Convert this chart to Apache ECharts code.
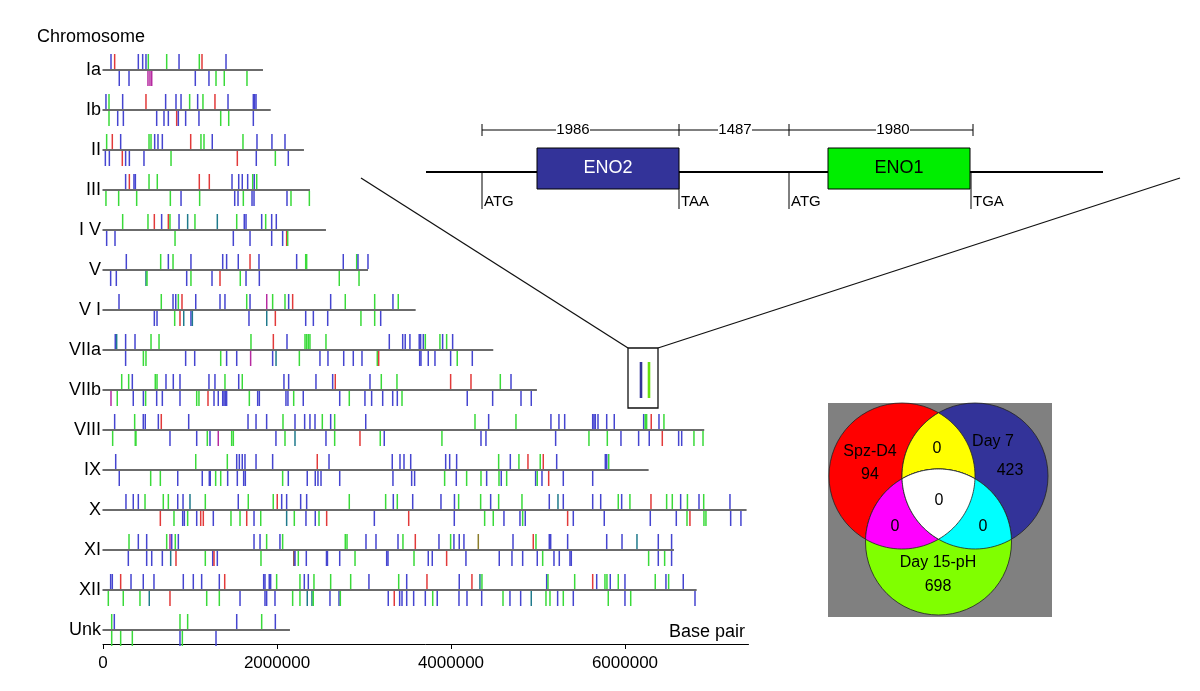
<!DOCTYPE html>
<html><head><meta charset="utf-8">
<script src="https://cdn.jsdelivr.net/npm/echarts@6/dist/echarts.min.js"></script>
<style>html,body{margin:0;padding:0;background:#fff}#c{width:1200px;height:691px}</style>
</head><body><div id="c"></div>
<script>
// ---------- DATA ----------
const chrNames = ['Ia','Ib','II','III','I V','V','V I','VIIa','VIIb','VIII','IX','X','XI','XII','Unk'];
const chrLengthsKb = [1839,1928,2310,2379,2563,3046,3594,4486,4988,6911,6272,7398,6563,6824,2149];
const xTickValues = [0,2000000,4000000,6000000];
// ticks: [position kb, side (1 above / -1 below), class]
const ticksIa = [[92,1,'b'],[134,1,'r'],[406,1,'b'],[456,1,'b'],[494,1,'b'],[521,1,'g'],[732,1,'g'],[874,1,'b'],[1107,1,'g'],[1138,1,'r'],[1414,1,'b'],
 [187,-1,'b'],[299,-1,'b'],[517,-1,'m'],[540,-1,'m'],[560,-1,'m'],[1061,-1,'b'],[1218,-1,'b'],[1299,-1,'g'],[1394,-1,'g'],[1655,-1,'g']];
const ticksIb = [[34,1,'b'],[69,1,'g'],[226,1,'b'],[494,1,'r'],[720,1,'b'],[839,1,'b'],[897,1,'b'],[996,1,'g'],[1088,1,'b'],[1149,1,'g'],[1287,1,'r'],[1437,1,'b'],[1728,1,'b'],[1743,1,'b'],[1759,1,'b'],
 [69,-1,'g'],[169,-1,'b'],[234,-1,'b'],[617,-1,'b'],[701,-1,'b'],[751,-1,'b'],[847,-1,'r'],[866,-1,'b'],[950,-1,'b'],[1103,-1,'b'],[1353,-1,'g'],[1445,-1,'g'],[1728,-1,'b']];
const ticksII = [[42,1,'g'],[107,1,'r'],[203,1,'b'],[529,1,'g'],[552,1,'g'],[594,1,'b'],[632,1,'b'],[682,1,'b'],[1008,1,'r'],[1126,1,'g'],[1161,1,'g'],[1256,1,'b'],[1609,1,'g'],[1770,1,'b'],[1942,1,'b'],[2092,1,'b'],
 [27,-1,'b'],[73,-1,'b'],[222,-1,'r'],[260,-1,'b'],[303,-1,'b'],[471,-1,'b'],[782,-1,'g'],[1544,-1,'r'],[1762,-1,'b'],[1981,-1,'g'],[2130,-1,'b']];
const ticksIII = [[260,1,'b'],[303,1,'r'],[356,1,'b'],[372,1,'b'],[529,1,'g'],[624,1,'g'],[1107,1,'r'],[1222,1,'r'],[1483,1,'b'],[1560,1,'b'],[1601,1,'b'],[1663,1,'b'],[1721,1,'g'],[1739,1,'b'],[1767,1,'g'],
 [34,-1,'g'],[180,-1,'g'],[387,-1,'g'],[774,-1,'g'],[897,-1,'b'],[1111,-1,'g'],[1514,-1,'b'],[1552,-1,'b'],[1613,-1,'g'],[1713,-1,'b'],[1736,-1,'b'],[2115,-1,'b'],[2161,-1,'g'],[2372,-1,'g']];
const ticksIV = [[226,1,'g'],[517,1,'g'],[590,1,'r'],[674,1,'b'],[751,1,'r'],[770,1,'g'],[874,1,'b'],[973,1,'t'],[1057,1,'g'],[1314,1,'t'],[1537,1,'g'],[1624,1,'b'],[1644,1,'b'],[1824,1,'b'],[1870,1,'g'],[1939,1,'b'],[1992,1,'b'],
 [42,-1,'b'],[138,-1,'b'],[828,-1,'g'],[1498,-1,'b'],[1690,-1,'b'],[1939,-1,'b'],[2065,-1,'b'],[2111,-1,'r'],[2123,-1,'g']];
const ticksV = [[268,1,'b'],[663,1,'g'],[751,1,'b'],[805,1,'g'],[1011,1,'b'],[1376,1,'b'],[1421,1,'b'],[1555,1,'b'],[1690,1,'r'],[1793,1,'b'],[2226,1,'b'],[2330,1,'g'],[2341,1,'g'],[2762,1,'b'],[2916,1,'g'],[2931,1,'b'],[3046,1,'b'],
 [88,-1,'b'],[153,-1,'b'],[494,-1,'t'],[506,-1,'g'],[962,-1,'b'],[1011,-1,'g'],[1253,-1,'b'],[1345,-1,'r'],[1578,-1,'g'],[1644,-1,'b'],[1797,-1,'b'],[2716,-1,'g'],[2943,-1,'g']];
const ticksVI = [[184,1,'b'],[670,1,'g'],[805,1,'b'],[836,1,'b'],[866,1,'g'],[908,1,'r'],[1066,1,'b'],[1345,1,'b'],[1402,1,'b'],[1652,1,'g'],[1690,1,'b'],[1882,1,'m'],[1950,1,'g'],[2092,1,'g'],[2134,1,'b'],[2180,1,'r'],[2617,1,'b'],[2785,1,'g'],[3123,1,'g'],[3333,1,'b'],[3394,1,'g'],
 [590,-1,'b'],[621,-1,'b'],[824,-1,'g'],[885,-1,'r'],[928,-1,'t'],[1011,-1,'b'],[1027,-1,'t'],[1678,-1,'b'],[1882,-1,'t'],[1981,-1,'r'],[2330,-1,'b'],[2418,-1,'b'],[2583,-1,'b'],[2965,-1,'g'],[3123,-1,'g'],[3192,-1,'b']];
const ticksVIIa = [[141,1,'b'],[157,1,'t'],[260,1,'b'],[368,1,'b'],[552,1,'g'],[644,1,'g'],[1701,1,'g'],[1958,1,'r'],[2115,1,'b'],[2322,1,'g'],[2341,1,'g'],[2360,1,'g'],[2379,1,'g'],[2563,1,'g'],[3291,1,'b'],[3445,1,'b'],[3474,1,'b'],[3528,1,'b'],[3635,1,'b'],[3651,1,'b'],[3682,1,'b'],[3705,1,'g'],[3873,1,'g'],[3904,1,'b'],[3950,1,'g'],[4019,1,'b'],
 [260,-1,'b'],[464,-1,'g'],[494,-1,'g'],[950,-1,'b'],[1054,-1,'b'],[1353,-1,'g'],[1421,-1,'b'],[1537,-1,'b'],[1697,-1,'m'],[1950,-1,'b'],[1989,-1,'t'],[2257,-1,'g'],[2494,-1,'b'],[2586,-1,'b'],[2767,-1,'b'],[2877,-1,'b'],[2977,-1,'b'],[3153,-1,'g'],[3169,-1,'r'],[3640,-1,'b'],[3655,-1,'b'],[3739,-1,'b'],[3816,-1,'b'],[3996,-1,'b'],[4072,-1,'g'],[4245,-1,'b']];
const ticksVIIb = [[215,1,'g'],[295,1,'g'],[337,1,'b'],[601,1,'g'],[621,1,'g'],[724,1,'b'],[808,1,'b'],[885,1,'b'],[1218,1,'b'],[1287,1,'b'],[1402,1,'g'],[1560,1,'b'],[1601,1,'g'],[2080,1,'b'],[2134,1,'b'],[2448,1,'b'],[2640,1,'b'],[2670,1,'r'],[3069,1,'b'],[3199,1,'g'],[3379,1,'g'],[3996,1,'r'],[4230,1,'r'],[4567,1,'g'],[4690,1,'b'],
 [92,-1,'m'],[164,-1,'g'],[348,-1,'b'],[464,-1,'b'],[490,-1,'g'],[617,-1,'b'],[682,-1,'b'],[885,-1,'b'],[1077,-1,'g'],[1103,-1,'g'],[1207,-1,'r'],[1276,-1,'b'],[1325,-1,'b'],[1376,-1,'b'],[1391,-1,'b'],[1406,-1,'b'],[1421,-1,'b'],[1682,-1,'g'],[1778,-1,'b'],[1797,-1,'b'],[2103,-1,'b'],[2126,-1,'b'],[2192,-1,'g'],[2302,-1,'b'],[2721,-1,'b'],[2831,-1,'g'],[3011,-1,'b'],[3088,-1,'b'],[3215,-1,'b'],[3330,-1,'b'],[3383,-1,'b'],[3437,-1,'g'],[4187,-1,'b'],[4479,-1,'b'],[4805,-1,'b'],[4923,-1,'b']];
const ticksVIII = [[134,1,'b'],[364,1,'g'],[463,1,'b'],[486,1,'b'],[636,1,'b'],[670,1,'r'],[985,1,'b'],[1667,1,'b'],[1759,1,'b'],[1881,1,'b'],[2069,1,'g'],[2207,1,'b'],[2318,1,'b'],[2379,1,'b'],[2437,1,'b'],[2521,1,'g'],[2617,1,'b'],[2663,1,'g'],[3020,1,'b'],[4276,1,'g'],[4433,1,'b'],[4747,1,'g'],[5149,1,'b'],[5241,1,'b'],[5307,1,'b'],[5629,1,'b'],[5644,1,'b'],[5659,1,'b'],[5690,1,'b'],[5790,1,'b'],[5877,1,'b'],[6215,1,'b'],[6233,1,'g'],[6249,1,'g'],[6302,1,'r'],[6391,1,'b'],[6448,1,'g'],
 [111,-1,'g'],[371,-1,'g'],[379,-1,'g'],[770,-1,'b'],[1077,-1,'b'],[1199,-1,'g'],[1230,-1,'b'],[1325,-1,'m'],[1479,-1,'g'],[1498,-1,'g'],[1988,-1,'b'],[2092,-1,'g'],[2207,-1,'t'],[2563,-1,'b'],[2663,-1,'g'],[2954,-1,'r'],[3187,-1,'g'],[3233,-1,'b'],[3896,-1,'g'],[4345,-1,'b'],[4402,-1,'b'],[5203,-1,'b'],[5586,-1,'g'],[5797,-1,'g'],[5954,-1,'b'],[6157,-1,'b'],[6279,-1,'b'],[6429,-1,'r'],[6617,-1,'b'],[6652,-1,'b'],[6793,-1,'g'],[6897,-1,'g']];
const ticksIX = [[146,1,'b'],[1066,1,'g'],[1429,1,'g'],[1537,1,'b'],[1567,1,'b'],[1601,1,'b'],[1632,1,'b'],[1759,1,'b'],[1950,1,'b'],[2463,1,'r'],[2598,1,'b'],[3325,1,'b'],[3414,1,'b'],[3460,1,'b'],[3537,1,'b'],[3939,1,'b'],[3985,1,'b'],[4065,1,'b'],[4548,1,'g'],[4682,1,'b'],[4781,1,'g'],[4885,1,'r'],[5026,1,'g'],[5061,1,'r'],[5215,1,'b'],[5774,1,'b'],[5790,1,'b'],[5813,1,'g'],
 [187,-1,'b'],[548,-1,'g'],[659,-1,'g'],[859,-1,'b'],[1141,-1,'b'],[1222,-1,'b'],[1233,-1,'b'],[1295,-1,'g'],[1353,-1,'g'],[1433,-1,'b'],[1544,-1,'b'],[1617,-1,'b'],[1636,-1,'b'],[2065,-1,'g'],[2130,-1,'b'],[2348,-1,'b'],[2440,-1,'b'],[2471,-1,'b'],[2506,-1,'b'],[2721,-1,'b'],[3333,-1,'b'],[3548,-1,'b'],[3582,-1,'b'],[3927,-1,'g'],[4061,-1,'b'],[4180,-1,'g'],[4345,-1,'g'],[4410,-1,'b'],[4552,-1,'g'],[4578,-1,'b'],[4640,-1,'g'],[4973,-1,'b'],[4992,-1,'g'],[5046,-1,'b'],[5123,-1,'r'],[5291,-1,'b'],[5629,-1,'b']];
const ticksX = [[264,1,'b'],[348,1,'b'],[406,1,'b'],[483,1,'g'],[693,1,'g'],[751,1,'g'],[859,1,'b'],[920,1,'b'],[1000,1,'t'],[1176,1,'g'],[1555,1,'b'],[1670,1,'g'],[1957,1,'g'],[2003,1,'r'],[2054,1,'b'],[2111,1,'b'],[2272,1,'b'],[2341,1,'b'],[2831,1,'g'],[3249,1,'g'],[3337,1,'b'],[3383,1,'g'],[3560,1,'b'],[3885,1,'b'],[4040,1,'b'],[4088,1,'g'],[4341,1,'g'],[4456,1,'b'],[4548,1,'g'],[4816,1,'g'],[5130,1,'b'],[5230,1,'t'],[5291,1,'b'],[5629,1,'b'],[5721,1,'b'],[5923,1,'g'],[5962,1,'b'],[6057,1,'g'],[6299,1,'r'],[6479,1,'g'],[6544,1,'g'],[6640,1,'b'],[6718,1,'g'],[6851,1,'b'],[6905,1,'g'],[7207,1,'b'],
 [659,-1,'r'],[816,-1,'g'],[916,-1,'b'],[935,-1,'b'],[973,-1,'g'],[1077,-1,'b'],[1123,-1,'r'],[1153,-1,'r'],[1268,-1,'b'],[1471,-1,'g'],[1575,-1,'g'],[1652,-1,'r'],[1736,-1,'b'],[1813,-1,'g'],[2111,-1,'t'],[2199,-1,'g'],[2333,-1,'b'],[2440,-1,'b'],[2483,-1,'g'],[2571,-1,'r'],[3119,-1,'b'],[3514,-1,'r'],[4038,-1,'b'],[4387,-1,'g'],[4486,-1,'g'],[4609,-1,'b'],[4793,-1,'b'],[4824,-1,'g'],[4854,-1,'b'],[5341,-1,'r'],[5406,-1,'b'],[5762,-1,'b'],[6291,-1,'b'],[6590,-1,'b'],[6713,-1,'g'],[6747,-1,'r'],[6908,-1,'g'],[6931,-1,'g'],[7215,-1,'b'],[7333,-1,'b']];
const ticksXI = [[299,1,'g'],[406,1,'b'],[502,1,'b'],[732,1,'g'],[770,1,'m'],[790,1,'b'],[831,1,'g'],[866,1,'b'],[1736,1,'b'],[1805,1,'b'],[1881,1,'g'],[2034,1,'b'],[2065,1,'g'],[2785,1,'g'],[2805,1,'g'],[3023,1,'b'],[3138,1,'b'],[3391,1,'b'],[3448,1,'g'],[3590,1,'r'],[3862,1,'b'],[3996,1,'g'],[4034,1,'b'],[4095,1,'b'],[4149,1,'b'],[4314,1,'o'],[4713,1,'b'],[4946,1,'r'],[4977,1,'g'],[5130,1,'b'],[5146,1,'b'],[5341,1,'b'],[5790,1,'b'],[5966,1,'b'],[6138,1,'t'],[6383,1,'b'],[6536,1,'b'],
 [291,-1,'b'],[502,-1,'b'],[560,-1,'b'],[682,-1,'b'],[778,-1,'t'],[839,-1,'r'],[1176,-1,'g'],[1261,-1,'b'],[1276,-1,'r'],[1314,-1,'b'],[1816,-1,'g'],[2195,-1,'k'],[2207,-1,'b'],[2245,-1,'g'],[2337,-1,'b'],[2569,-1,'b'],[2580,-1,'b'],[2721,-1,'b'],[2897,-1,'g'],[3261,-1,'b'],[3276,-1,'b'],[3575,-1,'g'],[3739,-1,'b'],[3785,-1,'b'],[3950,-1,'r'],[4172,-1,'b'],[4555,-1,'b'],[4701,-1,'b'],[4824,-1,'b'],[4992,-1,'b'],[5054,-1,'g'],[5184,-1,'b'],[5245,-1,'b'],[5368,-1,'b'],[5383,-1,'b'],[6272,-1,'g'],[6383,-1,'b'],[6456,-1,'g'],[6536,-1,'b']];
const ticksXII = [[88,1,'b'],[107,1,'b'],[203,1,'r'],[322,1,'b'],[463,1,'b'],[586,1,'b'],[923,1,'b'],[1038,1,'b'],[1134,1,'b'],[1337,1,'b'],[1399,1,'r'],[1847,1,'b'],[1862,1,'b'],[1911,1,'b'],[1927,1,'b'],[1996,1,'g'],[2264,1,'g'],[2314,1,'b'],[2360,1,'b'],[2425,1,'g'],[2617,1,'g'],[2847,1,'g'],[3057,1,'b'],[3399,1,'g'],[3491,1,'b'],[3724,1,'r'],[4095,1,'b'],[4241,1,'r'],[4333,1,'t'],[4356,1,'g'],[5100,1,'b'],[5115,1,'g'],[5422,1,'g'],[5629,1,'r'],[5675,1,'b'],[5770,1,'g'],[5793,1,'g'],[5831,1,'b'],[5923,1,'g'],[6000,1,'b'],[6348,1,'g'],[6471,1,'b'],[6502,1,'g'],[6670,1,'b'],
 [61,-1,'g'],[233,-1,'g'],[425,-1,'g'],[532,-1,'t'],[770,-1,'r'],[1192,-1,'g'],[1337,-1,'g'],[1575,-1,'b'],[1862,-1,'b'],[1881,-1,'b'],[1977,-1,'b'],[2180,-1,'g'],[2264,-1,'g'],[2348,-1,'t'],[2402,-1,'t'],[2417,-1,'g'],[2609,-1,'b'],[2713,-1,'b'],[2728,-1,'g'],[3279,-1,'b'],[3348,-1,'r'],[3410,-1,'b'],[3437,-1,'b'],[3491,-1,'b'],[3571,-1,'b'],[3705,-1,'b'],[3790,-1,'g'],[3842,-1,'b'],[4092,-1,'b'],[4184,-1,'b'],[4353,-1,'b'],[4598,-1,'g'],[4678,-1,'b'],[4801,-1,'b'],[4923,-1,'t'],[5092,-1,'g'],[5138,-1,'g'],[5226,-1,'b'],[5291,-1,'g'],[5406,-1,'b'],[5808,-1,'g'],[6000,-1,'b'],[6066,-1,'g'],[6805,-1,'b']];
const ticksUnk = [[100,1,'g'],[130,1,'b'],[885,1,'g'],[973,1,'g'],[1537,1,'b'],[1824,1,'g'],[1981,1,'b'],
 [100,-1,'g'],[203,-1,'g'],[337,-1,'g'],[885,-1,'b'],[912,-1,'g'],[1299,-1,'b']];

// gene diagram
const geneNames = ['ENO2','ENO1'];
const geneSpans = ['1986','1487','1980'];
const codonLabels = ['ATG','TAA','ATG','TGA'];
// venn
const vennSets = ['Spz-D4','Day 7','Day 15-pH'];
const vennOnly = [94,423,698];
const vennPairs = [0,0,0]; // Spz∩D7, Spz∩D15, D7∩D15
const vennAll = 0;

// ---------- BUILD ----------
const allTicks = [ticksIa,ticksIb,ticksII,ticksIII,ticksIV,ticksV,ticksVI,ticksVIIa,ticksVIIb,ticksVIII,ticksIX,ticksX,ticksXI,ticksXII,ticksUnk];
const tickColors = {b:'#4545d0', g:'#3ada3a', r:'#e23a3a', m:'#b62aa0', t:'#1f7a8c', o:'#8c7d2a', k:'#733030'};
const tickData = [], tickCol = [];
allTicks.forEach((arr,row)=>arr.forEach(t=>{ tickData.push([t[0]*1000,row,t[1]]); tickCol.push(tickColors[t[2]]); }));
const chrData = chrLengthsKb.map((l,i)=>[l*1000,i]);

const FONT = '"Liberation Sans", Arial, Helvetica, sans-serif';
const g = [];
function txt(x,y,t,size,opts){ opts=opts||{}; g.push({type:'text', x:x, y:y, z:opts.z||10, style:{text:t, fill:opts.fill||'#000', font:size+'px '+FONT, align:opts.align||'center', verticalAlign:'middle', textAlign:opts.align||'center', textVerticalAlign:'middle'}}); }
function ln(x1,y1,x2,y2,w,c,z){ g.push({type:'line', z:z||5, shape:{x1:x1,y1:y1,x2:x2,y2:y2}, style:{stroke:c||'#000', lineWidth:w||1}}); }

txt(37,37,'Chromosome',18,{align:'left'});
txt(745,632,'Base pair',18,{align:'right'});

// zoom lines & inset box
ln(361,178,628,348,1.3,'#111');
ln(658,348,1180,178,1.3,'#111');
g.push({type:'rect', z:5, shape:{x:628,y:348,width:30,height:60}, style:{fill:'#fff', stroke:'#111', lineWidth:1.3}});
ln(641,362,641,398,2.6,'#333399',6);
ln(649,362,649,398,2.6,'#66e010',6);

// gene diagram
ln(426,172,1103,172,2,'#000');
const codonX = [482,679,789,971];
codonX.forEach((x,i)=>{ ln(x,172,x,209,1,'#000'); txt(x+2,202,codonLabels[i],15,{align:'left'}); });
g.push({type:'rect', z:6, shape:{x:537,y:148,width:142,height:41}, style:{fill:'#333399', stroke:'#000', lineWidth:1}});
g.push({type:'rect', z:6, shape:{x:828,y:148,width:142,height:41}, style:{fill:'#00ee00', stroke:'#000', lineWidth:1}});
txt(608,168,geneNames[0],18,{fill:'#fff'});
txt(899,168,geneNames[1],18,{fill:'#000'});
const dimX = [482,679,789,973];
ln(482,130,973,130,1,'#000');
dimX.forEach(x=>ln(x,124,x,136,1,'#000'));
[[573,geneSpans[0]],[735,geneSpans[1]],[893,geneSpans[2]]].forEach(d=>{
  g.push({type:'rect', z:7, shape:{x:d[0]-17,y:122,width:34,height:16}, style:{fill:'#fff'}});
  txt(d[0],130,d[1],15,{z:8});
});

// venn
g.push({type:'rect', z:2, shape:{x:828,y:403,width:224,height:214}, style:{fill:'#808080'}});
const R=73, CR=[902,476], CB=[975,476], CG=[938.5,542];
function inter(c1,c2){ const dx=c2[0]-c1[0], dy=c2[1]-c1[1], d=Math.hypot(dx,dy), a=d/2, h=Math.sqrt(R*R-a*a), mx=c1[0]+dx/2, my=c1[1]+dy/2;
  return [[mx-h*dy/d, my+h*dx/d],[mx+h*dy/d, my-h*dx/d]]; }
function arc(c,p1,p2){ const a1=Math.atan2(p1[1]-c[1],p1[0]-c[0]), a2=Math.atan2(p2[1]-c[1],p2[0]-c[0]); let d=a2-a1; while(d>Math.PI)d-=2*Math.PI; while(d<-Math.PI)d+=2*Math.PI;
  const pts=[]; for(let i=0;i<=40;i++){ const a=a1+d*i/40; pts.push([c[0]+R*Math.cos(a), c[1]+R*Math.sin(a)]); } return pts; }
function lens(c1,c2){ const [p,q]=inter(c1,c2); return arc(c1,p,q).concat(arc(c2,q,p)); }
function dist(p,c){ return Math.hypot(p[0]-c[0],p[1]-c[1]); }
function pick(c1,c2,c3){ const [p,q]=inter(c1,c2); return dist(p,c3)<dist(q,c3)?p:q; }
const vstroke = {stroke:'#222', lineWidth:0.8};
[[CR,'#ff0000'],[CB,'#333399'],[CG,'#80ff00']].forEach(c=>g.push({type:'circle', z:3, shape:{cx:c[0][0],cy:c[0][1],r:R}, style:Object.assign({fill:c[1]},vstroke)}));
g.push({type:'polygon', z:4, shape:{points:lens(CR,CB)}, style:Object.assign({fill:'#ffff00'},vstroke)});
g.push({type:'polygon', z:4, shape:{points:lens(CR,CG)}, style:Object.assign({fill:'#ff00ff'},vstroke)});
g.push({type:'polygon', z:4, shape:{points:lens(CB,CG)}, style:Object.assign({fill:'#00ffff'},vstroke)});
const Xrb=pick(CR,CB,CG), Xrg=pick(CR,CG,CB), Xbg=pick(CB,CG,CR);
g.push({type:'polygon', z:5, shape:{points:arc(CG,Xbg,Xrg).concat(arc(CR,Xrg,Xrb)).concat(arc(CB,Xrb,Xbg))}, style:Object.assign({fill:'#ffffff'},vstroke)});
txt(870,452,vennSets[0],16); txt(870,475,String(vennOnly[0]),16);
txt(993,442,vennSets[1],16); txt(1010,471,String(vennOnly[1]),16);
txt(938,563,vennSets[2],16); txt(938,587,String(vennOnly[2]),16);
txt(937,449,String(vennPairs[0]),16);
txt(895,527,String(vennPairs[1]),16);
txt(983,527,String(vennPairs[2]),16);
txt(939,501,String(vennAll),16);

const chart = echarts.init(document.getElementById('c'), null, {renderer:'canvas'});
chart.setOption({
  animation:false,
  backgroundColor:'#fff',
  grid:{left:103, right:451.5, top:50, bottom:41},
  xAxis:{type:'value', min:0, max:7420000, offset:-6,
    axisLine:{show:true, onZero:false, lineStyle:{color:'#000', width:1}},
    axisTick:{show:true, customValues:xTickValues, length:5, lineStyle:{color:'#000'}},
    axisLabel:{customValues:xTickValues, color:'#000', fontSize:17, fontFamily:FONT, margin:11,
      formatter:function(v){ return String(Math.round(v)); }},
    splitLine:{show:false}},
  yAxis:{type:'category', inverse:true, data:chrNames,
    axisLine:{show:false}, axisTick:{show:false},
    axisLabel:{color:'#000', fontSize:18, fontFamily:FONT, margin:2}},
  series:[
    {type:'custom', silent:true, clip:false, z:2, data:chrData, encode:{x:0,y:1},
      renderItem:function(params,api){ const a=api.coord([0,api.value(1)]), b=api.coord([api.value(0),api.value(1)]);
        return {type:'line', shape:{x1:a[0]-0.5,y1:a[1],x2:b[0],y2:b[1]}, style:{stroke:'#3a3a3a', lineWidth:1.4}}; }},
    {type:'custom', silent:true, clip:false, z:3, data:tickData, encode:{x:0,y:1},
      renderItem:function(params,api){ const p=api.coord([api.value(0),api.value(1)]), s=api.value(2);
        const y1 = s>0 ? p[1]-1 : p[1]+1, y2 = s>0 ? p[1]-16 : p[1]+16;
        return {type:'line', shape:{x1:p[0],y1:y1,x2:p[0],y2:y2}, style:{stroke:tickCol[params.dataIndex], lineWidth:1.5}}; }}
  ],
  graphic:{elements:g}
});
</script></body></html>
